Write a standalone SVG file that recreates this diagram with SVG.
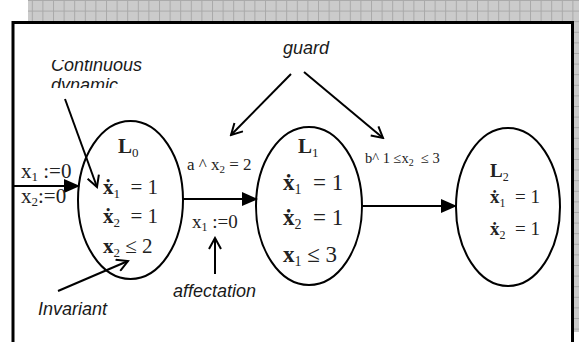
<svg xmlns="http://www.w3.org/2000/svg" width="579" height="342" viewBox="0 0 579 342">
<style>
.lbl{font-family:"Liberation Sans",Arial,sans-serif;font-style:italic;font-size:18px;fill:#1a1a1a}
.m{font-family:"Liberation Serif","DejaVu Serif",serif;fill:#222}
.b{font-weight:bold}
.node{fill:#fff;stroke:#000;stroke-width:2}
.edge{stroke:#000;stroke-width:2;fill:none}
.note{stroke:#000;stroke-width:2;fill:none}
</style>
<defs>
<pattern id="grid" width="10.6" height="10.6" patternUnits="userSpaceOnUse">
<rect width="10.6" height="10.6" fill="#cbcbcb"/>
<path d="M0,0.5H10.6M0.5,0V10.6" stroke="#a9a9a9" stroke-width="1"/>
</pattern>
<marker id="solid" markerUnits="userSpaceOnUse" markerWidth="16" markerHeight="14" refX="15" refY="7" orient="auto">
<path d="M0,0 L16,7 L0,14 z" fill="#000"/>
</marker>
<marker id="open" markerUnits="userSpaceOnUse" markerWidth="14" markerHeight="14" refX="12" refY="7" orient="auto">
<path d="M1,1 L12,7 L1,13" fill="none" stroke="#000" stroke-width="2"/>
</marker>
<clipPath id="dynclip"><rect x="40" y="60" width="120" height="28"/></clipPath>
</defs>
<rect width="579" height="342" fill="#fff"/>
<rect x="28" y="0" width="551" height="21" fill="url(#grid)"/>
<rect x="574" y="0" width="5" height="332" fill="url(#grid)"/>
<path d="M13,342 V22.5 H572.5 V342" fill="none" stroke="#000" stroke-width="3"/>

<g id="L0">
<ellipse class="node" cx="130.5" cy="200" rx="52.5" ry="79"/>
<text class="m b" x="118" y="153" font-size="21">L<tspan font-size="13" font-weight="normal" dy="4">0</tspan></text>
<text class="m" x="103" y="194" font-size="21"><tspan class="b">ẋ</tspan><tspan font-size="13" dy="4">1</tspan><tspan dy="-4" xml:space="preserve">  = 1</tspan></text>
<text class="m" x="103" y="223" font-size="21"><tspan class="b">ẋ</tspan><tspan font-size="13" dy="4">2</tspan><tspan dy="-4" xml:space="preserve">  = 1</tspan></text>
<text class="m" x="103" y="253" font-size="21"><tspan class="b">x</tspan><tspan font-size="13" dy="4">2</tspan><tspan dy="-4" xml:space="preserve"> ≤ 2</tspan></text>
</g>

<g id="L1">
<ellipse class="node" cx="309" cy="206" rx="53" ry="79"/>
<text class="m b" x="298" y="153" font-size="21">L<tspan font-size="13" font-weight="normal" dy="4">1</tspan></text>
<text class="m" x="283" y="190" font-size="23"><tspan class="b">ẋ</tspan><tspan font-size="14" dy="4">1</tspan><tspan dy="-4" xml:space="preserve">  = 1</tspan></text>
<text class="m" x="283" y="225" font-size="23"><tspan class="b">ẋ</tspan><tspan font-size="14" dy="4">2</tspan><tspan dy="-4" xml:space="preserve">  = 1</tspan></text>
<text class="m" x="283" y="262" font-size="23"><tspan class="b">x</tspan><tspan font-size="14" dy="4">1</tspan><tspan dy="-4" xml:space="preserve"> ≤ 3</tspan></text>
</g>

<g id="L2">
<ellipse class="node" cx="508" cy="207" rx="52" ry="79"/>
<text class="m b" x="490" y="177" font-size="19">L<tspan font-size="12" font-weight="normal" dy="4">2</tspan></text>
<text class="m" x="490" y="203" font-size="19"><tspan class="b">ẋ</tspan><tspan font-size="12" dy="4">1</tspan><tspan dy="-4" xml:space="preserve">  = 1</tspan></text>
<text class="m" x="490" y="235" font-size="19"><tspan class="b">ẋ</tspan><tspan font-size="12" dy="4">2</tspan><tspan dy="-4" xml:space="preserve">  = 1</tspan></text>
</g>

<g id="connectors">
<line class="edge" x1="14" y1="186" x2="79" y2="186" marker-end="url(#solid)"/>
<line class="edge" x1="183" y1="199" x2="257" y2="199" marker-end="url(#solid)"/>
<line class="edge" x1="362" y1="206" x2="456" y2="206" marker-end="url(#solid)"/>
<line class="note" x1="291" y1="74" x2="231" y2="135" marker-end="url(#open)"/>
<line class="note" x1="304" y1="72" x2="383" y2="138" marker-end="url(#open)"/>
<line class="note" x1="65" y1="99" x2="97" y2="187" marker-end="url(#open)"/>
<line class="note" x1="58" y1="291" x2="128" y2="261" marker-end="url(#open)"/>
<line class="note" x1="215" y1="274" x2="215" y2="238" marker-end="url(#open)"/>
</g>

<g id="labels">
<text class="lbl" x="283" y="54">guard</text>
<g clip-path="url(#dynclip)">
<text class="lbl" x="51" y="71" font-size="14">Continuous</text>
<text class="lbl" x="51" y="91" font-size="14">dynamic</text>
</g>
<text class="lbl" x="38" y="315">Invariant</text>
<text class="lbl" x="173" y="297">affectation</text>
<text class="m" x="187" y="170" font-size="17" fill="#333" xml:space="preserve">a ^ x<tspan font-size="11" dy="3">2</tspan><tspan dy="-3"> = 2</tspan></text>
<text class="m" x="365" y="163" font-size="14.5" fill="#333" xml:space="preserve">b^ 1 ≤x<tspan font-size="10" dy="3">2</tspan><tspan dy="-3">  ≤ 3</tspan></text>
<text class="m" x="192" y="228" font-size="19" fill="#333">x<tspan font-size="12" dy="3">1</tspan><tspan dy="-3"> :=0</tspan></text>
<text class="m" x="21" y="178" font-size="21" fill="#333">x<tspan font-size="13" dy="3">1</tspan><tspan dy="-3"> :=0</tspan></text>
<text class="m" x="21" y="203" font-size="21" fill="#333">x<tspan font-size="13" dy="3">2</tspan><tspan dy="-3">:=0</tspan></text>
</g>
</svg>
